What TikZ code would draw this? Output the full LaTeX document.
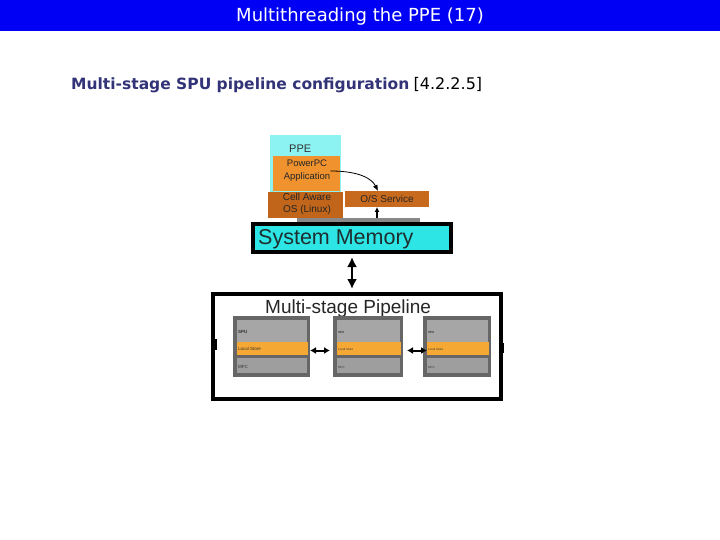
\documentclass[tikz,border=0pt]{standalone}
\usepackage{fontspec}
\setmainfont{DejaVu Sans}
\newfontfamily\diagfont{Liberation Sans}
\usetikzlibrary{positioning,arrows.meta}
\definecolor{titleblue}{RGB}{0,0,245}
\definecolor{subblue}{RGB}{51,51,120}
\definecolor{ppecyan}{RGB}{140,242,242}
\definecolor{memcyan}{RGB}{46,229,229}
\definecolor{apporange}{RGB}{240,146,46}
\definecolor{osbrown}{RGB}{192,101,26}
\definecolor{svcbrown}{RGB}{200,106,30}
\definecolor{spudark}{RGB}{102,102,102}
\definecolor{spulight}{RGB}{166,166,166}
\definecolor{spumid}{RGB}{158,158,158}
\definecolor{lsorange}{RGB}{245,168,51}
\definecolor{stripgray}{RGB}{136,136,136}
\definecolor{memtext}{RGB}{30,45,45}
\tikzset{
  block/.style={anchor=north west, inner sep=0pt, outer sep=0pt},
  lbl/.style={inner sep=0pt, font=\diagfont\fontsize{10}{12}\selectfont, text=black!85, align=center},
  spulbl/.style={anchor=west, inner sep=0pt, text=black!80},
  fatarrow/.style={{Latex[length=10pt,width=10pt]}-{Latex[length=10pt,width=10pt]}, line width=2.5pt},
  duplex/.style={{Latex[length=6pt,width=7pt]}-{Latex[length=6pt,width=7pt]}, line width=2pt}
}
\begin{document}
\begin{tikzpicture}[x=1pt,y=-1pt]
\useasboundingbox (0,0) rectangle (720,540);
% title bar
\fill[titleblue] (0,0) rectangle (720,31);
\node[anchor=base, text=white, font=\fontsize{18}{20}\selectfont] (title) at (360,22) {Multithreading the PPE (17)};
\node[anchor=base west, inner sep=0pt, text=subblue, font=\bfseries\fontsize{15.5}{18}\selectfont] (sub) at (71,90) {Multi-stage SPU pipeline configuration};
\node[anchor=base west, inner sep=0pt, font=\fontsize{16}{18}\selectfont] (secref) at ([xshift=4pt]sub.base east) {[4.2.2.5]};

% PPE stack
\node[block, fill=ppecyan, minimum width=71pt, minimum height=57pt] (ppe) at (270,135) {};
\node[anchor=base west, inner sep=0pt, font=\diagfont\fontsize{11}{12}\selectfont, text=black!80] (ppelbl) at (289,153) {PPE};
\node[block, fill=apporange, minimum width=67pt, minimum height=35pt] (app) at (273,156) {};
\node[lbl, font=\diagfont\fontsize{9.5}{13}\selectfont] (applbl) at (307,171) {PowerPC\\Application};
\node[block, fill=osbrown, minimum width=75pt, minimum height=26pt] (os) at (268,192) {};
\node[lbl] (oslbl) at (307,204) {Cell Aware\\OS (Linux)};
\node[block, fill=svcbrown, minimum width=84pt, minimum height=16pt] (ossvc) at (345,191) {};
\node[lbl] (svclbl) at (ossvc.center) {O/S Service};
\node[block, fill=stripgray, minimum width=123pt, minimum height=4pt] (strip) at (297,218) {};

% system memory
\node[block, fill=memcyan, draw=black, line width=4pt, minimum width=198pt, minimum height=28pt] (mem) at (253,224) {};
\node[anchor=base west, inner sep=0pt, font=\diagfont\fontsize{21.5}{24}\selectfont, text=memtext] (memlbl) at (258,244) {System Memory};

\draw[-{Latex[length=6pt,width=5pt]}, line width=0.8pt] (applbl.east) .. controls (360,171) and (372,179) .. ([xshift=-9pt]ossvc.north);
\draw[-{Latex[length=5pt,width=5pt]}, line width=1.5pt] ([xshift=-10pt]ossvc.south |- strip.north) -- ([xshift=-10pt]ossvc.south);

% pipeline frame
\node[block, draw=black, line width=4pt, minimum width=288pt, minimum height=105pt] (pipe) at (213,293.5) {};
\fill (213,339) rectangle (217,350);
\fill (500,343) rectangle (504,353);
\node[anchor=base west, inner sep=0pt, font=\diagfont\fontsize{19}{22}\selectfont, text=black!85] (pipelbl) at (265,313) {Multi-stage Pipeline};

\foreach \i/\l/\r/\ts in {1/233/310/4.5, 2/333/403/3, 3/423/491/3}{
  \node[block, fill=spudark, minimum width={(\r-\l)*1pt}, minimum height=61pt] (spu\i) at (\l,316) {};
  \node[block, fill=spulight, minimum width={(\r-\l-7)*1pt}, minimum height=22pt] (core\i) at (\l+3.5,320) {};
  \node[block, fill=lsorange, minimum width={(\r-\l-6)*1pt}, minimum height=13pt] (ls\i) at (\l+3.5,342) {};
  \node[block, fill=spumid, minimum width={(\r-\l-7)*1pt}, minimum height=15pt] (mfc\i) at (\l+3.5,358) {};
  \node[spulbl, font=\diagfont\bfseries\fontsize{\ts}{\ts}\selectfont] at (\l+5,332) {SPU};
  \node[spulbl, font=\diagfont\fontsize{\ts}{\ts}\selectfont] at (\l+5,349) {Local Store};
  \node[spulbl, font=\diagfont\fontsize{\ts}{\ts}\selectfont] at (\l+5,367) {MFC};
}

\draw[fatarrow, shorten <=5pt, shorten >=4.5pt] (mem.south) -- (mem.south |- pipe.north);
\draw[duplex, shorten >=3pt] ([yshift=-2pt]ls1.east -| spu1.east) -- ([yshift=-2pt]ls2.west -| spu2.west);
\draw[duplex, shorten <=4pt, shorten >=-4pt] ([yshift=-2pt]ls2.east -| spu2.east) -- ([yshift=-2pt]ls3.west -| spu3.west);
\end{tikzpicture}
\end{document}
